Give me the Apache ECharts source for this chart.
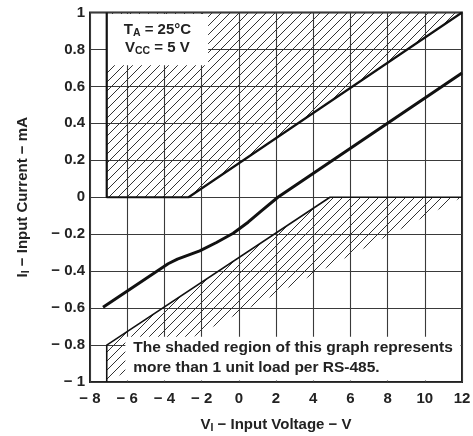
<!DOCTYPE html>
<html>
<head>
<meta charset="utf-8">
<script src="https://cdn.jsdelivr.net/npm/echarts@6/dist/echarts.min.js"></script>
<style>
html,body{margin:0;padding:0;background:#fff;}
#c{width:473px;height:436px;}
</style>
</head>
<body>
<div id="c"></div>
<script>
// ---- data ----
const xTicks = [-8, -6, -4, -2, 0, 2, 4, 6, 8, 10, 12];
const yTicks = [-1, -0.8, -0.6, -0.4, -0.2, 0, 0.2, 0.4, 0.6, 0.8, 1];
// measured input current curve
const curveV = [-7.3, -3.8, -3.3, -2.1, -1.2, -0.3, 0.5, 1.2, 2.1, 12];
const curveI = [-0.595, -0.36, -0.335, -0.29, -0.245, -0.195, -0.135, -0.075, 0, 0.673];
// shaded (more than 1 unit load) region boundaries
const upperV = [-7.1, -7.1, -2.7, 12];
const upperI = [1, 0, 0, 1];
const lowerV = [-7.1, -7.1, 4.9, 12];
const lowerI = [-1, -0.8, 0, 0];
// annotation boxes (data-space corners) and texts
const boxTopV = [-7.1, -1.65];
const boxTopI = [0.715, 1];
const boxBotV = [-6.1, 12];
const boxBotI = [-1, -0.755];
const condLines = ['{n|T}{s|A}{n| = 25°C}', '{n|V}{s|CC}{n| = 5 V}'];
const noteLines = ['The shaded region of this graph represents', 'more than 1 unit load per RS-485.'];

const FONT = "'Liberation Sans', Arial, sans-serif";

// hatch pattern
const pc = document.createElement('canvas');
const S = 9;
pc.width = S; pc.height = S;
const pctx = pc.getContext('2d');
pctx.strokeStyle = '#333';
pctx.lineWidth = 1;
pctx.beginPath();
pctx.moveTo(-1, S + 1); pctx.lineTo(S + 1, -1);
pctx.moveTo(-1, 1); pctx.lineTo(1, -1);
pctx.moveTo(S - 1, S + 1); pctx.lineTo(S + 1, S - 1);
pctx.stroke();
const hatch = { image: pc, repeat: 'repeat' };

function zip(a, b) { return a.map((v, k) => [v, b[k]]); }

function polygonRender(vs, is) {
  return function (params, api) {
    return {
      type: 'polygon',
      shape: { points: vs.map((v, k) => api.coord([v, is[k]])) },
      style: { fill: hatch, stroke: null }
    };
  };
}

const richMain = { fontSize: 15, fontWeight: 'bold', fontFamily: FONT, fill: '#222', lineHeight: 18, verticalAlign: 'middle' };
const richSub = { fontSize: 10.5, fontWeight: 'bold', fontFamily: FONT, fill: '#222', lineHeight: 12, verticalAlign: 'bottom', padding: [7, 0, 0, 0] };

function boxTopRender(params, api) {
  const p0 = api.coord([boxTopV[0], boxTopI[1]]);
  const p1 = api.coord([boxTopV[1], boxTopI[0]]);
  const cx = (p0[0] + p1[0]) / 2;
  const cy = (p0[1] + p1[1]) / 2;
  return {
    type: 'group',
    children: [
      { type: 'rect', shape: { x: p0[0], y: p0[1] + 1.5, width: p1[0] - p0[0], height: p1[1] - p0[1] - 1.5 }, style: { fill: '#fff' } },
      { type: 'text', x: cx, y: cy - 9, style: { text: condLines[0], rich: { n: richMain, s: richSub }, align: 'center', verticalAlign: 'middle' } },
      { type: 'text', x: cx, y: cy + 9, style: { text: condLines[1], rich: { n: richMain, s: richSub }, align: 'center', verticalAlign: 'middle' } }
    ]
  };
}

function boxBotRender(params, api) {
  const p0 = api.coord([boxBotV[0], boxBotI[1]]);
  const p1 = api.coord([boxBotV[1], boxBotI[0]]);
  return {
    type: 'group',
    children: [
      { type: 'rect', shape: { x: p0[0], y: p0[1], width: p1[0] - p0[0] - 1.5, height: p1[1] - p0[1] - 1.5 }, style: { fill: '#fff' } },
      { type: 'text', x: p0[0] + 8, y: p0[1] + 11, style: { text: noteLines[0], font: 'bold 15.5px ' + FONT, fill: '#222', align: 'left', verticalAlign: 'middle' } },
      { type: 'text', x: p0[0] + 8, y: p0[1] + 31, style: { text: noteLines[1], font: 'bold 15.5px ' + FONT, fill: '#222', align: 'left', verticalAlign: 'middle' } }
    ]
  };
}

function fmt(v) {
  const r = Math.round(v * 10) / 10;
  return r < 0 ? '\u2212 ' + Math.abs(r) : String(r);
}

const chart = echarts.init(document.getElementById('c'), null, { renderer: 'canvas' });
chart.setOption({
  animation: false,
  backgroundColor: '#fff',
  grid: { left: 90, right: 11, top: 12.5, bottom: 54, containLabel: false, outerBoundsMode: 'none', show: true, borderColor: '#222', borderWidth: 2, backgroundColor: 'transparent' },
  xAxis: {
    type: 'value', min: xTicks[0], max: xTicks[xTicks.length - 1], interval: 2,
    axisLine: { show: false }, axisTick: { show: false },
    splitLine: { show: true, lineStyle: { color: '#3a3a3a', width: 1.1 } },
    axisLabel: { formatter: fmt, color: '#222', fontSize: 15, fontWeight: 'bold', fontFamily: FONT, margin: 9 },
    name: '{m|V}{s|I}{m| \u2212 Input Voltage \u2212 V}',
    nameLocation: 'middle', nameGap: 34,
    nameTextStyle: {
      rich: {
        m: { fontSize: 15, fontWeight: 'bold', fontFamily: FONT, color: '#222', lineHeight: 18, verticalAlign: 'middle' },
        s: { fontSize: 10.5, fontWeight: 'bold', fontFamily: FONT, color: '#222', lineHeight: 12, verticalAlign: 'bottom', padding: [7, 0, 0, 0] }
      }
    }
  },
  yAxis: {
    type: 'value', min: yTicks[0], max: yTicks[yTicks.length - 1], interval: 0.2,
    axisLine: { show: false }, axisTick: { show: false },
    splitLine: { show: true, lineStyle: { color: '#3a3a3a', width: 1.1 } },
    axisLabel: { formatter: fmt, color: '#222', fontSize: 15, fontWeight: 'bold', fontFamily: FONT, margin: 5 },
    name: '{m|I}{s|I}{m| \u2212 Input Current \u2212 mA}',
    nameLocation: 'middle', nameGap: 58,
    nameTextStyle: {
      rich: {
        m: { fontSize: 15, fontWeight: 'bold', fontFamily: FONT, color: '#222', lineHeight: 18, verticalAlign: 'middle' },
        s: { fontSize: 10.5, fontWeight: 'bold', fontFamily: FONT, color: '#222', lineHeight: 12, verticalAlign: 'bottom', padding: [7, 0, 0, 0] }
      }
    }
  },
  series: [
    { type: 'custom', z: 2, silent: true, data: [[upperV[0], upperI[0]]], renderItem: polygonRender(upperV, upperI) },
    { type: 'custom', z: 2, silent: true, data: [[lowerV[0], lowerI[0]]], renderItem: polygonRender(lowerV, lowerI) },
    { type: 'custom', z: 3, silent: true, data: [[boxTopV[0], boxTopI[0]]], renderItem: boxTopRender },
    { type: 'custom', z: 3, silent: true, data: [[boxBotV[0], boxBotI[0]]], renderItem: boxBotRender },
    { type: 'line', z: 4, data: zip(upperV, upperI), symbol: 'none', lineStyle: { color: '#111', width: 2.2 } },
    { type: 'line', z: 4, data: zip(lowerV, lowerI), symbol: 'none', lineStyle: { color: '#111', width: 1.6 } },
    { type: 'line', z: 5, data: zip(curveV, curveI), symbol: 'none', lineStyle: { color: '#111', width: 3 } }
  ]
});
</script>
</body>
</html>
